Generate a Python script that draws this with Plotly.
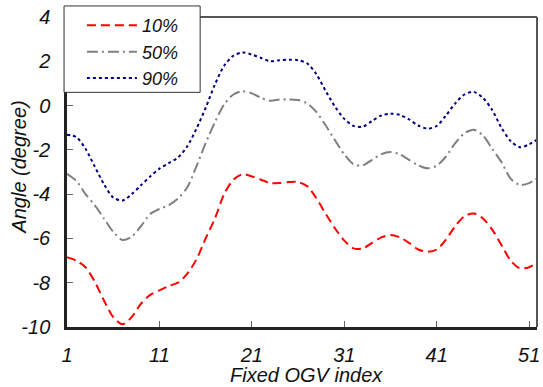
import plotly.graph_objects as go

# Fixed OGV index (blade positions)
ogv_index = list(range(1, 53))

# Flow angle at three span positions (degree)
angle_10 = [-6.85, -7.0, -7.3, -7.95, -8.8, -9.55, -9.88, -9.55, -8.95, -8.55,
            -8.35, -8.15, -8.0, -7.6, -6.95, -6.0, -5.1, -4.0, -3.35, -3.1,
            -3.2, -3.35, -3.5, -3.5, -3.45, -3.45, -3.65, -4.2, -4.9, -5.55,
            -6.1, -6.45, -6.45, -6.2, -5.95, -5.85, -5.95, -6.2, -6.5, -6.6,
            -6.5, -6.05, -5.45, -5.0, -4.87, -5.1, -5.6, -6.3, -7.0, -7.35,
            -7.3, -7.05]
angle_50 = [-3.08, -3.4, -4.0, -4.5, -5.1, -5.7, -6.07, -5.92, -5.45, -4.9,
            -4.67, -4.5, -4.2, -3.7, -2.75, -1.7, -0.75, 0.05, 0.5, 0.65,
            0.55, 0.35, 0.22, 0.27, 0.28, 0.25, 0.1, -0.3, -0.9, -1.57,
            -2.2, -2.65, -2.7, -2.45, -2.2, -2.1, -2.2, -2.45, -2.7, -2.83,
            -2.72, -2.3, -1.7, -1.25, -1.09, -1.35, -1.95, -2.55, -3.3, -3.58,
            -3.5, -3.25]
angle_90 = [-1.32, -1.42, -1.95, -2.75, -3.55, -4.15, -4.29, -4.0, -3.6, -3.2,
            -2.85, -2.6, -2.35, -1.85, -1.05, -0.1, 0.95, 1.8, 2.25, 2.4,
            2.3, 2.15, 2.0, 2.05, 2.07, 2.05, 1.9, 1.4, 0.65, -0.05,
            -0.6, -0.92, -0.95, -0.7, -0.45, -0.37, -0.42, -0.62, -0.9, -1.04,
            -0.92, -0.45, 0.1, 0.5, 0.62, 0.35, -0.2, -1.0, -1.6, -1.88,
            -1.75, -1.5]

x_ticks = [1, 11, 21, 31, 41, 51]
y_ticks = [4, 2, 0, -2, -4, -6, -8, -10]

FONT = "Arial, Liberation Sans, sans-serif"

fig = go.Figure()
series = [
    ("10%", angle_10, "#ff0000", "9px,5px"),
    ("50%", angle_50, "#808080", "11px,4px,2px,4px"),
    ("90%", angle_90, "#000080", "3px,3px"),
]
for name, vals, color, dash in series:
    fig.add_trace(go.Scatter(
        x=ogv_index, y=vals, name=name, mode="lines",
        line=dict(color=color, width=2, dash=dash, shape="spline", smoothing=0.8),
    ))

fig.update_layout(
    width=543, height=387,
    margin=dict(l=67, r=3, t=17, b=60),
    paper_bgcolor="white", plot_bgcolor="white",
    font=dict(family=FONT, size=20, color="#111111", style="italic"),
    showlegend=True,
    legend=dict(
        x=0.0317, y=1.032, xanchor="left", yanchor="top",
        bgcolor="rgba(0,0,0,0)", borderwidth=0,
        font=dict(family=FONT, size=18, style="italic", color="#111111"),
        itemwidth=50, tracegroupgap=0,
    ),
    xaxis=dict(
        range=[1, 51.85], tickvals=x_ticks, ticktext=[str(v) for v in x_ticks],
        ticks="inside", ticklen=6, tickcolor="#666666", tickwidth=1,
        showline=True, linecolor="#222222", linewidth=2.5,
        showgrid=False, zeroline=False, ticklabelstandoff=8,
        ticklabeloverflow="allow",
        tickfont=dict(family=FONT, size=20, style="italic"),
    ),
    yaxis=dict(
        range=[-10, 4], tickvals=y_ticks, ticktext=[str(v) for v in y_ticks],
        ticks="inside", ticklen=6, tickcolor="#666666", tickwidth=1,
        showline=True, linecolor="#222222", linewidth=2.5,
        showgrid=False, zeroline=False, ticklabelstandoff=10,
        ticklabeloverflow="allow",
        tickfont=dict(family=FONT, size=20, style="italic"),
    ),
    shapes=[
        # top and right frame
        dict(type="line", xref="paper", yref="paper", x0=0, x1=1, y0=1, y1=1,
             line=dict(color="#555555", width=2)),
        dict(type="line", xref="paper", yref="paper", x0=1, x1=1, y0=0, y1=1,
             line=dict(color="#555555", width=2)),
        # legend box
        dict(type="rect", xref="paper", yref="paper", layer="above",
             x0=-0.0063, x1=0.2833, y0=0.757, y1=1.0356,
             fillcolor="white", line=dict(color="#333333", width=1)),
    ],
    annotations=[
        dict(text="Angle (degree)", xref="paper", yref="paper", x=-0.103, y=0.516,
             textangle=-90, showarrow=False, xanchor="center", yanchor="middle",
             font=dict(family=FONT, size=20, style="italic", color="#111111")),
        dict(text="Fixed OGV index", xref="paper", yref="paper", x=0.51, y=-0.155,
             showarrow=False, xanchor="center", yanchor="middle",
             font=dict(family=FONT, size=20, style="italic", color="#111111")),
    ],
)

fig.write_html("out.html")
